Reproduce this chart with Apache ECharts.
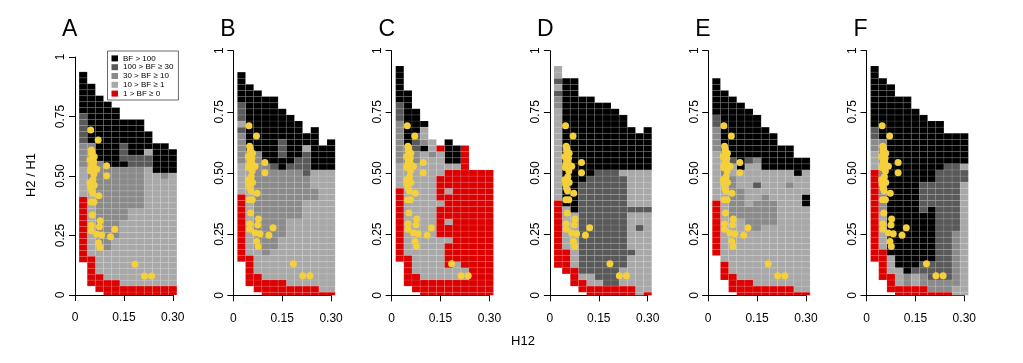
<!DOCTYPE html>
<html>
<head>
<meta charset="utf-8">
<script src="https://cdn.jsdelivr.net/npm/echarts@6/dist/echarts.min.js"></script>
<style>
html,body{margin:0;padding:0;background:#fff;}
#chart{width:1023px;height:363px;}
</style>
</head>
<body>
<div id="chart"></div>
<script>
// ---- data ----
// column centres (H12) and row centres (H2/H1) of the evidence grid
const h12Values = [0.025,0.05,0.075,0.1,0.125,0.15,0.175,0.2,0.225,0.25,0.275,0.3];
const ratioValues = [0,0.025,0.05,0.075,0.1,0.125,0.15,0.175,0.2,0.225,0.25,0.275,0.3,0.325,0.35,0.375,0.4,0.425,0.45,0.475,0.5,0.525,0.55,0.575,0.6,0.625,0.65,0.675,0.7,0.725,0.75,0.775,0.8,0.825,0.85,0.875,0.9,0.925,0.95];
// Bayes-factor class per cell, each column run-length coded from the bottom row upward
// K: BF>100, D: 100>BF>=30, M: 30>BF>=10, L: 10>BF>=1, R: 1>BF>=0, .: no cell
const panelA = ["6.,11R,5L,4M,5D,7K","2.,5R,13L,6M,10K","1.,3R,5L,14M,11K","3R,5L,14M,11K","3R,7L,12M,10K","2R,11L,9M,1K,3D,4K","2R,13L,7M,2D,6K","2R,13L,7M,2D,6K","2R,20L,2D,1L,3K","2R,19L,5K","2R,18L,1M,5K","2R,19L,4K"];
const panelB = ["6.,11R,5L,5M,1D,1L,3D,5K","2.,5R,15L,2M,11K","1.,3R,4L,16M,10K","3R,4L,15M,11K","3R,5L,13M,1D,11K","3R,7L,11M,2K,3D,5K","2R,11L,8M,1D,8K","2R,11L,8M,2D,6K","2R,14L,4M,4D,1L,2K","2R,14L,2M,3L,7K","1R,20L,4K","1R,20L,5K"];
const panelC = ["6.,12R,4L,7M,3D,6K","2.,5R,14L,4M,9K","1.,3R,18L,2M,3D,4K","3R,21L,1K,1M,2L,1K","3R,20L,1M,2L","3R,7L,5R,1L,4R,4L,1R","3R,2L,4R,1L,2R,1L,4R,1L,3R,1L,4K","3R,3L,15R,1L,3K","3R,2L,20R","21R","21R","21R"];
const panelD = ["5.,11R,15L,2M,1D,1L,1D,2L","4.,4R,7L,21K","2.,3R,9L,22K","1.,2R,1L,15D,14K","2R,2L,16D,13K","2R,1L,18D,11K","2R,19D,11K","2R,19D,10K","2R,3L,15D,1L,9K","2R,5L,1D,6L,1D,6L,7K","11L,1D,2L,1D,6L,6K","1R,13L,1D,6L,7K"];
const panelE = ["7.,9R,8L,4M,2D,6K","3.,3R,14L,4M,10K","1.,3R,9L,7M,2L,1D,10K","3R,10L,5M,3L,11K","3R,8L,4M,7L,1D,8K","2R,9L,5M,2L,1D,3L,1M,7K","2R,10L,5M,4L,7K","2R,10L,4M,5L,6K","2R,19L,4K","2R,16L,1M,2L,4K","1R,19L,3K","1R,14L,2K,4L,2K"];
const panelF = ["6.,15R,3L,2M,2D,10K","3.,5R,6L,12M,10K","1.,3R,3L,28K","2R,3L,28K","2R,2M,29K","2R,2L,1D,26K","2R,2M,2D,8K,5D,11K","1R,2M,3D,9K,4D,10K","1R,2M,18D,8K","1R,2M,19D,5K","2L,9M,11D,5K","19L,2D,1L,5K"];
// observed points (H12, H2/H1), identical in every panel
const pointsH12 = [0.048,0.071,0.050,0.051,0.059,0.046,0.051,0.056,0.067,0.047,0.058,0.097,0.097,0.046,0.059,0.051,0.054,0.073,0.049,0.058,0.053,0.077,0.050,0.075,0.122,0.050,0.067,0.082,0.109,0.072,0.076,0.184,0.213,0.235,0.052,0.049,0.054,0.057,0.048,0.055];
const pointsRatio = [0.693,0.651,0.609,0.591,0.581,0.567,0.553,0.543,0.528,0.522,0.508,0.543,0.501,0.472,0.461,0.438,0.427,0.417,0.391,0.391,0.336,0.312,0.293,0.287,0.276,0.270,0.255,0.252,0.245,0.220,0.200,0.129,0.080,0.080,0.600,0.535,0.575,0.560,0.455,0.485];
const panelLetters = ["A","B","C","D","E","F"];
const classNames = ["BF > 100","100 > BF \u2265 30","30 > BF \u2265 10","10 > BF \u2265 1","1 > BF \u2265 0"];
const xTicks = [0,0.15,0.30];
const yTicks = [0,0.25,0.50,0.75,1];

// ---- styling / layout ----
const classCodes = ["K","D","M","L","R"];
const classColors = ["#000000","#595959","#8a8a8a","#a8a8a8","#dd0000"];
const panels = [panelA,panelB,panelC,panelD,panelE,panelF];
const lefts = [75,233.3,391.6,549.9,708.2,866.5];
const tops = [57,50.7,50.7,50.7,50.7,50.7];
const heights = [238,244.6,244.6,244.6,244.6,244.6];
const W = 97.8;
const FONT = "'Liberation Sans', Arial, Helvetica, sans-serif";
const HALF = (h12Values[1]-h12Values[0])/2;

function parseColumn(str){
  const out=[];
  str.split(',').forEach(tok=>{
    const n=parseInt(tok,10); const c=tok.replace(/[0-9]/g,'');
    for(let i=0;i<n;i++) out.push(c);
  });
  return out;
}

const grids=[],xAxes=[],yAxes=[],series=[],graphics=[];
panels.forEach((cols,p)=>{
  grids.push({left:lefts[p],top:tops[p],width:W,height:heights[p]});
  xAxes.push({type:'value',gridIndex:p,min:xTicks[0],max:xTicks[2],interval:xTicks[1]-xTicks[0],
    axisLine:{show:true,lineStyle:{color:'#000',width:1}},
    axisTick:{show:true,length:6,lineStyle:{color:'#000',width:1}},
    splitLine:{show:false},
    axisLabel:{show:true,margin:17,fontSize:12,color:'#000',fontFamily:FONT,
      formatter:v=>v===0?'0':v.toFixed(2)}});
  yAxes.push({type:'value',gridIndex:p,min:yTicks[0],max:yTicks[4],interval:yTicks[1],
    axisLine:{show:true,lineStyle:{color:'#000',width:1}},
    axisTick:{show:true,length:6,lineStyle:{color:'#000',width:1}},
    splitLine:{show:false},
    axisLabel:{show:true,rotate:90,margin:8,fontSize:12,color:'#000',fontFamily:FONT,
      formatter:v=>v===0?'0':(v===1?'1':v.toFixed(2))}});
  const byClass=classCodes.map(()=>[]);
  cols.forEach((s,ci)=>{
    parseColumn(s).forEach((c,k)=>{
      const idx=classCodes.indexOf(c);
      if(idx>=0) byClass[idx].push([h12Values[ci],ratioValues[k]]);
    });
  });
  byClass.forEach((data,idx)=>{
    series.push({type:'custom',name:classNames[idx],xAxisIndex:p,yAxisIndex:p,clip:false,
      itemStyle:{color:classColors[idx]},
      renderItem:function(params,api){
        const x=api.value(0),y=api.value(1);
        const a=api.coord([x-HALF,y+HALF]);
        const b=api.coord([x+HALF,Math.max(y-HALF,0)]);
        return {type:'rect',shape:{x:a[0],y:a[1],width:b[0]-a[0],height:b[1]-a[1]},
          style:{fill:api.visual('color'),stroke:'rgba(255,255,255,0.2)',lineWidth:0.5}};
      },
      data:data,silent:true,animation:false});
  });
  series.push({type:'scatter',xAxisIndex:p,yAxisIndex:p,symbol:'circle',symbolSize:7,
    itemStyle:{color:'#f3d03c',opacity:1},z:5,silent:true,animation:false,
    data:pointsH12.map((x,i)=>[x,pointsRatio[i]])});
  graphics.push({type:'text',left:lefts[p]-13,top:18,style:{text:panelLetters[p],font:'23px '+FONT,fill:'#000'}});
});
graphics.push({type:'text',x:31,y:175,rotation:Math.PI/2,style:{text:'H2 / H1',font:'13px '+FONT,fill:'#000',align:'center',verticalAlign:'middle'}});
graphics.push({type:'text',x:523,y:341,style:{text:'H12',font:'13px '+FONT,fill:'#000',align:'center',verticalAlign:'middle'}});

const chart=echarts.init(document.getElementById('chart'),null,{renderer:'canvas'});
chart.setOption({
  animation:false,
  backgroundColor:'#fff',
  grid:grids,xAxis:xAxes,yAxis:yAxes,series:series,graphic:graphics,
  legend:{show:true,left:107.5,top:51,orient:'vertical',icon:'rect',itemWidth:6.5,itemHeight:6,itemGap:0,
    padding:[3,5,2,4],borderColor:'#444',borderWidth:0.8,backgroundColor:'#fff',selectedMode:false,
    textStyle:{fontSize:8,lineHeight:8.8,color:'#000',fontFamily:FONT},
    data:classNames.map((n,i)=>({name:n,itemStyle:{color:classColors[i]}}))}
});
</script>
</body>
</html>
